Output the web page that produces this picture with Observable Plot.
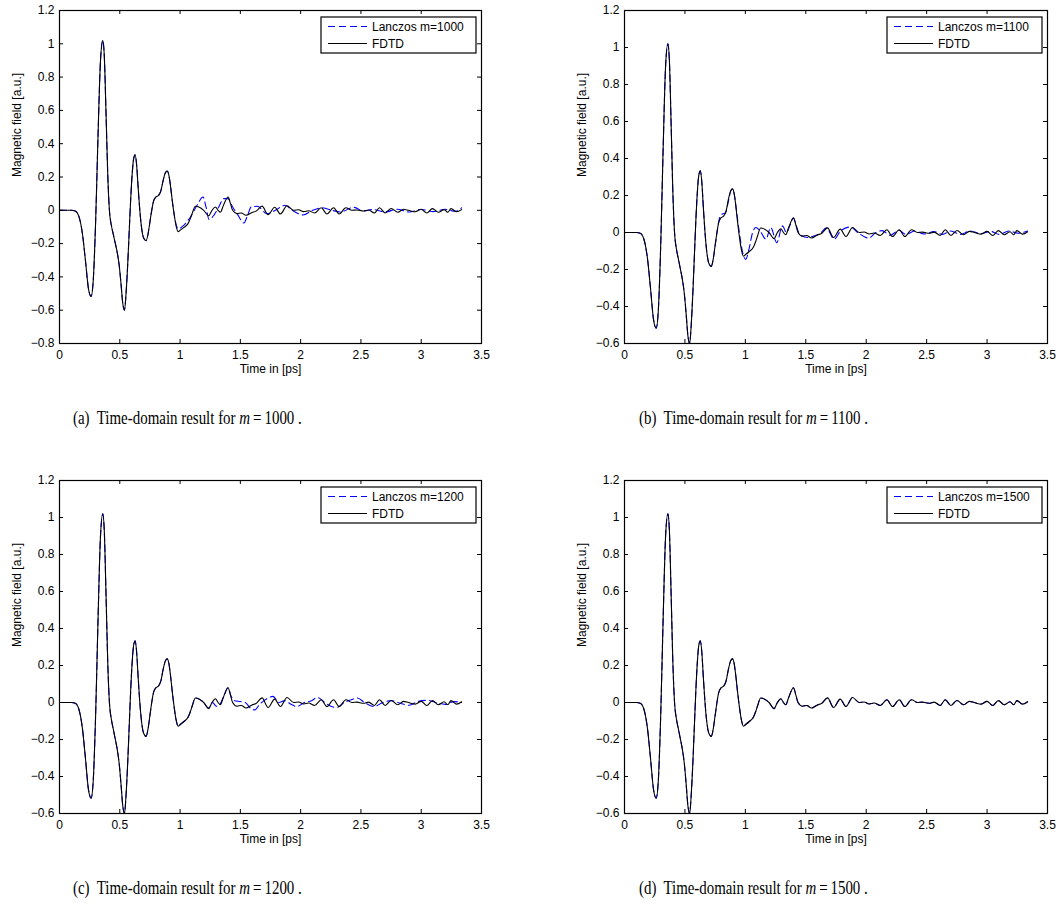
<!DOCTYPE html>
<html><head><meta charset="utf-8">
<script src="https://cdn.jsdelivr.net/npm/d3@7"></script>
<script src="https://cdn.jsdelivr.net/npm/@observablehq/plot@0.6"></script>
<style>
html,body{margin:0;padding:0;background:#fff;}
#root{position:relative;width:1059px;height:913px;overflow:hidden;background:#fff;}
.panel{position:absolute;}
.cap{position:absolute;overflow:visible;}
</style></head><body>
<div id="root"></div>
<script>
// ---- data ----
const xTickValues = [0, 0.5, 1, 1.5, 2, 2.5, 3, 3.5];
const yTicksA = [-0.8, -0.6, -0.4, -0.2, 0, 0.2, 0.4, 0.6, 0.8, 1, 1.2];
const yTicksBCD = [-0.6, -0.4, -0.2, 0, 0.2, 0.4, 0.6, 0.8, 1, 1.2];
const panelMs = ["1000", "1100", "1200", "1500"];
const panelLetters = ["a", "b", "c", "d"];

// FDTD reference signal (time in ps, field in a.u.)
const fdtdTime = [0.00,0.10,0.13,0.16,0.19,0.215,0.24,0.262,0.28,0.30,0.32,0.34,0.359,0.372,0.386,0.40,0.414,0.43,0.445,0.46,0.478,0.495,0.51,0.525,0.539,0.552,0.566,0.578,0.59,0.605,0.615,0.627,0.64,0.652,0.665,0.68,0.697,0.718,0.735,0.75,0.765,0.78,0.80,0.82,0.84,0.86,0.878,0.893,0.906,0.92,0.935,0.95,0.966,0.984,1.00,1.03,1.066,1.085,1.10,1.127,1.16,1.196,1.237,1.265,1.293,1.315,1.334,1.36,1.398,1.418,1.436,1.472,1.508,1.547,1.597,1.63,1.68,1.73,1.785,1.832,1.887,1.942,1.983,2.025,2.066,2.116,2.171,2.218,2.273,2.32,2.375,2.425,2.466,2.521,2.563,2.612,2.654,2.701,2.751,2.806,2.853,2.894,2.95,3.0,3.046,3.093,3.142,3.19,3.22,3.247,3.294,3.335];
const fdtdField = [0,0,-0.004,-0.035,-0.14,-0.30,-0.47,-0.517,-0.42,-0.06,0.46,0.90,1.02,0.92,0.58,0.22,0.0,-0.09,-0.14,-0.19,-0.25,-0.33,-0.44,-0.56,-0.60,-0.50,-0.32,-0.13,0.06,0.24,0.31,0.333,0.27,0.14,0.01,-0.10,-0.165,-0.183,-0.14,-0.07,0.0,0.055,0.08,0.088,0.115,0.18,0.225,0.236,0.215,0.15,0.06,-0.02,-0.09,-0.128,-0.12,-0.104,-0.08,-0.05,-0.02,0.024,0.018,0.0,-0.033,0.0,0.02,0.0,-0.012,0.03,0.08,0.04,0.0,-0.02,-0.016,-0.03,-0.013,-0.005,0.025,-0.027,0.018,-0.022,0.027,0.0,0.003,-0.008,-0.003,-0.016,0.015,-0.022,0.015,-0.022,0.015,0.0,0.002,-0.004,0.002,-0.016,0.015,-0.016,0.011,-0.012,0.006,0.0,-0.009,0.006,-0.016,0.01,-0.012,0.004,-0.012,0.01,-0.009,0.004];

// Lanczos: identical to FDTD before the split time, then these read values
const lanczos1000Split = 0.966;
const lanczos1000Time = [0.984,1.03,1.086,1.141,1.19,1.215,1.24,1.28,1.321,1.362,1.398,1.436,1.473,1.53,1.56,1.59,1.64,1.722,1.79,1.87,1.93,2.02,2.10,2.18,2.26,2.33,2.44,2.52,2.60,2.70,2.80,2.90,3.00,3.10,3.20,3.28,3.335];
const lanczos1000Field = [-0.112,-0.09,-0.04,0.03,0.08,0.02,-0.055,-0.03,0.02,0.07,0.07,0.02,-0.02,-0.076,-0.03,0.02,0.024,-0.02,0.0,0.03,0.0,-0.028,0.0,0.015,0.0,-0.01,0.018,-0.005,0.005,-0.01,0.006,-0.01,0.005,-0.008,0.006,-0.006,0.015];

const lanczos1100Split = 0.765;
const lanczos1100Time = [0.79,0.81,0.835,0.86,0.88,0.895,0.91,0.93,0.95,0.975,1.003,1.03,1.06,1.087,1.12,1.17,1.21,1.26,1.307,1.34,1.37,1.398,1.42,1.45,1.515,1.56,1.62,1.67,1.735,1.79,1.87,1.93,2.02,2.08,2.13,2.20,2.27,2.33,2.40,2.48,2.56,2.63,2.70,2.78,2.86,2.95,3.03,3.10,3.18,3.26,3.335];
const lanczos1100Field = [0.085,0.10,0.105,0.17,0.225,0.235,0.20,0.10,0.0,-0.10,-0.145,-0.09,0.0,0.027,0.01,-0.036,0.027,-0.055,0.036,0.0,0.04,0.078,0.04,-0.01,-0.027,-0.02,-0.005,0.025,-0.036,0.01,0.03,0.0,-0.03,0.0,0.01,-0.015,0.012,-0.01,0.008,-0.008,0.005,-0.01,0.008,-0.01,0.008,-0.006,0.006,-0.01,0.008,-0.004,0.008];

const lanczos1200Split = 1.19;
const lanczos1200Time = [1.196,1.237,1.27,1.30,1.33,1.36,1.398,1.42,1.45,1.50,1.54,1.583,1.62,1.66,1.72,1.77,1.82,1.87,1.92,1.97,2.03,2.09,2.14,2.20,2.25,2.30,2.36,2.42,2.47,2.53,2.61,2.68,2.75,2.83,2.90,2.97,3.05,3.12,3.20,3.27,3.335];
const lanczos1200Field = [0.0,-0.03,0.0,-0.02,-0.01,0.03,0.08,0.04,0.01,0.005,0.0,-0.03,-0.04,-0.01,0.02,0.033,0.0,0.01,-0.01,-0.022,0.0,0.01,0.027,0.0,-0.02,-0.027,0.0,0.015,0.024,0.0,-0.022,0.0,0.01,-0.005,-0.015,0.005,0.012,0.0,-0.01,0.005,0.0];

// m = 1500: Lanczos is indistinguishable from FDTD
const lanczos1500Split = 4;
const lanczos1500Time = [];
const lanczos1500Field = [];

// ---- build ----
const fdtd = fdtdTime.map((t, i) => ({t, v: fdtdField[i]}));
function lanczosSeries(split, times, fields) {
  return fdtd.filter(d => d.t < split).concat(times.map((t, i) => ({t, v: fields[i]})));
}
const lanczosSets = [
  lanczosSeries(lanczos1000Split, lanczos1000Time, lanczos1000Field),
  lanczosSeries(lanczos1100Split, lanczos1100Time, lanczos1100Field),
  lanczosSeries(lanczos1200Split, lanczos1200Time, lanczos1200Field),
  lanczosSeries(lanczos1500Split, lanczos1500Time, lanczos1500Field)
];

const fmt = d => d < 0 ? "\u2212" + String(Math.abs(d)) : String(d);
const FONT = "'Liberation Sans', Arial, Helvetica, sans-serif";
const SERIF = "'Liberation Serif', 'Times New Roman', serif";

const layouts = [
  {left: 0,   top: 0,   width: 500, mL: 59, mR: 19, yDomain: [-0.8, 1.2], yTicks: yTicksA},
  {left: 560, top: 0,   width: 499, mL: 64, mR: 12, yDomain: [-0.6, 1.2], yTicks: yTicksBCD},
  {left: 0,   top: 470, width: 500, mL: 59, mR: 19, yDomain: [-0.6, 1.2], yTicks: yTicksBCD},
  {left: 560, top: 470, width: 499, mL: 64, mR: 12, yDomain: [-0.6, 1.2], yTicks: yTicksBCD}
];
const H = 385, mT = 10, mB = 42;
const frameH = H - mT - mB;
const root = document.getElementById("root");

layouts.forEach((L, k) => {
  const frameW = L.width - L.mL - L.mR;
  const plot = Plot.plot({
    width: L.width, height: H,
    marginLeft: L.mL, marginRight: L.mR, marginTop: mT, marginBottom: mB,
    style: {fontFamily: FONT, fontSize: "12px", color: "#000", background: "transparent", overflow: "visible"},
    x: {domain: [0, 3.5], axis: null},
    y: {domain: L.yDomain, axis: null},
    marks: [
      Plot.line(lanczosSets[k], {x: "t", y: "v", stroke: "#0000ff", strokeWidth: 1.1, strokeDasharray: "7,4", curve: "monotone-x", clip: true}),
      Plot.line(fdtd, {x: "t", y: "v", stroke: "#000", strokeWidth: 1.1, curve: "monotone-x", clip: true}),
      Plot.tickX(xTickValues, {x: d => d, insetTop: frameH - 4, stroke: "#000"}),
      Plot.tickX(xTickValues, {x: d => d, insetBottom: frameH - 4, stroke: "#000"}),
      Plot.tickY(L.yTicks, {y: d => d, insetRight: frameW - 4, stroke: "#000"}),
      Plot.tickY(L.yTicks, {y: d => d, insetLeft: frameW - 4, stroke: "#000"}),
      Plot.axisX({ticks: xTickValues, tickSize: 0, tickPadding: 7, tickFormat: fmt, anchor: "bottom", label: null, fontSize: 12}),
      Plot.axisY({ticks: L.yTicks, tickSize: 0, tickPadding: 5, tickFormat: fmt, anchor: "left", label: null, fontSize: 12}),
      Plot.frame({stroke: "#000", strokeWidth: 1.2}),
      Plot.text(["Time in [ps]"], {frameAnchor: "bottom", dy: 26, lineAnchor: "middle", fontSize: 12}),
      Plot.text(["Magnetic field [a.u.]"], {frameAnchor: "left", dx: -42, rotate: -90, fontSize: 12})
    ]
  });
  // legend box (inside the axes, top-right, MATLAB style)
  const svg = d3.select(plot);
  const lw = 155, lh = 36;
  const lx = L.width - L.mR - 5 - lw, ly = mT + 7;
  const g = svg.append("g").attr("font-family", FONT).attr("font-size", 12).attr("text-anchor", "start");
  g.append("rect").attr("x", lx).attr("y", ly).attr("width", lw).attr("height", lh)
    .attr("fill", "#fff").attr("stroke", "#000").attr("stroke-width", 1.2);
  const rows = [
    {label: "Lanczos m=" + panelMs[k], stroke: "#0000ff", dash: "7,4"},
    {label: "FDTD", stroke: "#000", dash: null}
  ];
  rows.forEach((r, i) => {
    const yy = ly + 9.5 + i * 17;
    g.append("line").attr("x1", lx + 7).attr("x2", lx + 46).attr("y1", yy).attr("y2", yy)
      .attr("stroke", r.stroke).attr("stroke-width", 1.1).attr("stroke-dasharray", r.dash);
    g.append("text").attr("x", lx + 51).attr("y", yy).attr("dy", "0.35em")
      .attr("text-anchor", "start").attr("fill", "#000").text(r.label);
  });
  const wrap = document.createElement("div");
  wrap.className = "panel";
  wrap.style.left = L.left + "px";
  wrap.style.top = L.top + "px";
  wrap.appendChild(plot);
  root.appendChild(wrap);

  // caption below the subfigure (condensed Times, as in the reference)
  const capSvg = d3.create("svg").attr("class", "cap").attr("width", 300).attr("height", 30)
    .style("left", (L.left + (k % 2 === 0 ? 73 : 79)) + "px").style("top", (L.top + 403) + "px");
  const t = capSvg.append("text").attr("x", 0).attr("y", 21).attr("font-family", SERIF)
    .attr("font-size", 19).attr("fill", "#000");
  t.append("tspan").text("(" + panelLetters[k] + ")\u00a0 Time-domain result for ");
  t.append("tspan").attr("font-style", "italic").text("m");
  t.append("tspan").text("\u2009=\u2009" + panelMs[k] + " .");
  root.appendChild(capSvg.node());
  const len = t.node().getComputedTextLength();
  if (len > 0) t.attr("transform", "scale(" + (229 / len) + ",1)");
});
</script>
</body></html>
